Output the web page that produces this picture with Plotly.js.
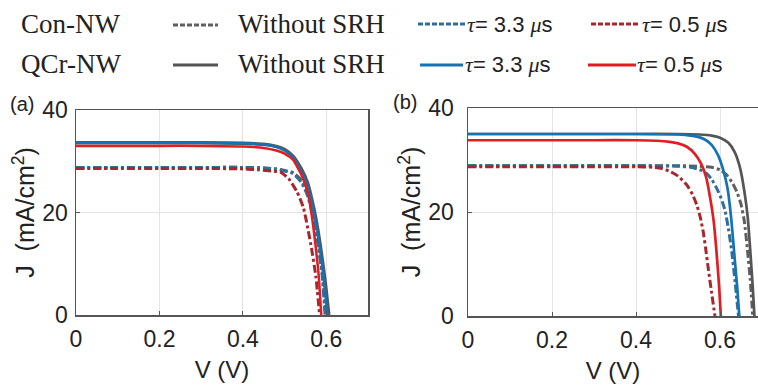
<!DOCTYPE html>
<html>
<head>
<meta charset="utf-8">
<script src="https://cdn.plot.ly/plotly-3.0.1.min.js"></script>
<style>
html,body{margin:0;padding:0;background:#fff;}
#chart{width:758px;height:387px;}
</style>
</head>
<body>
<div id="chart"></div>
<script>
// ---------- Panel (a) data ----------
const aQcrNoSrhV = [0,0.1,0.2,0.3,0.4,0.45,0.48,0.50,0.52,0.54,0.555,0.57,0.58,0.59,0.598,0.606];
const aQcrNoSrhJ = [33.6,33.6,33.6,33.6,33.5,33.3,32.9,32.3,31.0,28.5,25.8,20.8,16.5,11.0,6.0,0];
const aQcr33V = [0,0.1,0.2,0.3,0.4,0.45,0.48,0.50,0.52,0.54,0.555,0.57,0.58,0.59,0.597,0.603];
const aQcr33J = [33.6,33.6,33.6,33.6,33.5,33.3,32.8,32.1,30.7,28.0,25.2,20.0,15.5,10.0,4.5,0];
const aQcr05V = [0,0.1,0.2,0.3,0.4,0.45,0.48,0.50,0.52,0.54,0.555,0.565,0.575,0.582,0.588];
const aQcr05J = [33.0,33.0,33.0,33.0,32.9,32.6,32.1,31.5,30.3,27.4,24.0,19.5,13.0,7.5,0];
const aConNoSrhV = [0,0.1,0.2,0.3,0.4,0.45,0.48,0.50,0.52,0.54,0.555,0.57,0.58,0.59,0.599];
const aConNoSrhJ = [28.8,28.8,28.8,28.8,28.8,28.7,28.5,28.2,27.8,26.3,23.8,19.2,14.5,8.5,0];
const aCon33V = [0,0.1,0.2,0.3,0.4,0.45,0.48,0.50,0.52,0.54,0.555,0.57,0.58,0.59,0.597];
const aCon33J = [28.8,28.8,28.8,28.8,28.8,28.7,28.5,28.1,27.6,25.9,23.3,18.6,13.8,7.8,0];
const aCon05V = [0,0.1,0.2,0.3,0.4,0.44,0.47,0.49,0.51,0.53,0.545,0.556,0.565,0.575,0.584];
const aCon05J = [28.6,28.6,28.6,28.6,28.5,28.3,28.1,27.9,26.6,24.0,21.0,16.8,12.8,7.5,0];

// ---------- Panel (b) data ----------
const bQcrNoSrhV = [0,0.1,0.2,0.3,0.4,0.5,0.55,0.58,0.60,0.62,0.635,0.648,0.658,0.666,0.673,0.678,0.682];
const bQcrNoSrhJ = [35.0,35.0,35.0,35.0,35.0,35.0,34.9,34.7,34.3,33.3,31.5,28.4,24.0,19.0,11.5,5.5,0];
const bQcr33V = [0,0.1,0.2,0.3,0.4,0.5,0.53,0.55,0.565,0.58,0.595,0.608,0.618,0.627,0.635,0.641,0.646];
const bQcr33J = [35.0,35.0,35.0,35.0,35.0,34.9,34.7,34.4,33.9,32.9,31.0,28.0,24.5,18.5,11.0,5.5,0];
const bQcr05V = [0,0.1,0.2,0.3,0.4,0.45,0.48,0.50,0.52,0.54,0.555,0.567,0.577,0.585,0.593,0.598,0.602];
const bQcr05J = [33.8,33.8,33.8,33.8,33.8,33.7,33.5,33.2,32.6,31.2,29.3,26.7,22.5,18.2,11.0,5.5,0];
const bConNoSrhV = [0,0.1,0.2,0.3,0.4,0.5,0.55,0.58,0.60,0.615,0.628,0.64,0.65,0.658,0.665,0.672,0.678];
const bConNoSrhJ = [28.9,28.9,28.9,28.9,28.9,28.9,28.8,28.6,28.1,27.2,25.8,23.9,21.5,18.2,13.0,7.0,0];
const bCon33V = [0,0.1,0.2,0.3,0.4,0.5,0.53,0.55,0.568,0.58,0.592,0.603,0.612,0.62,0.628,0.636,0.644];
const bCon33J = [28.9,28.9,28.9,28.9,28.9,28.8,28.6,28.2,27.4,26.3,24.6,22.6,20.3,16.8,12.4,6.5,0];
const bCon05V = [0,0.1,0.2,0.3,0.4,0.44,0.46,0.481,0.50,0.521,0.535,0.545,0.553,0.56,0.566,0.572,0.58,0.588];
const bCon05J = [28.7,28.7,28.7,28.7,28.7,28.6,28.4,27.8,26.9,25.2,23.3,21.3,19.0,16.2,12.9,9.2,4.5,0];

// ---------- Labels ----------
const rowLabels = ["Con-NW", "QCr-NW"];
const seriesLabels = ["Without SRH", "\u03C4= 3.3 \u03BCs", "\u03C4= 0.5 \u03BCs"];
const xTicks = [0, 0.2, 0.4, 0.6];
const yTicks = [0, 20, 40];
const panelLabels = ["(a)", "(b)"];
const xTitle = "V (V)";
const yTitle = "J  (mA/cm<sup>2</sup>)";

// ---------- Styles ----------
const W = 758, H = 387;
const cGray = "#555555", cBlue = "#1572b4", cRed = "#e11d24";
const cGrayD = "#5f5f5f", cBlueD = "#2f6f9a", cRedD = "#a8262d";
const dashDot = "8px,3px,3px,3px";

function tr(x, y, color, dash, width, xa, ya, name) {
  return {x: x, y: y, type: "scatter", mode: "lines", name: name,
    xaxis: xa, yaxis: ya, showlegend: false, hoverinfo: "skip",
    line: {color: color, dash: dash, width: width, shape: "spline", smoothing: 0.5}};
}

const data = [
  tr(aConNoSrhV, aConNoSrhJ, cGrayD, dashDot, 3, "x", "y", "Con no SRH"),
  tr(aCon33V, aCon33J, cBlueD, dashDot, 3, "x", "y", "Con 3.3"),
  tr(aCon05V, aCon05J, cRedD, dashDot, 3, "x", "y", "Con 0.5"),
  tr(aQcrNoSrhV, aQcrNoSrhJ, cGray, "solid", 3.5, "x", "y", "QCr no SRH"),
  tr(aQcr33V, aQcr33J, cBlue, "solid", 2.5, "x", "y", "QCr 3.3"),
  tr(aQcr05V, aQcr05J, cRed, "solid", 2.5, "x", "y", "QCr 0.5"),
  tr(bConNoSrhV, bConNoSrhJ, cGrayD, dashDot, 3, "x2", "y2", "Con no SRH"),
  tr(bCon33V, bCon33J, cBlueD, dashDot, 3, "x2", "y2", "Con 3.3"),
  tr(bCon05V, bCon05J, cRedD, dashDot, 3, "x2", "y2", "Con 0.5"),
  tr(bQcrNoSrhV, bQcrNoSrhJ, cGray, "solid", 2.7, "x2", "y2", "QCr no SRH"),
  tr(bQcr33V, bQcr33J, cBlue, "solid", 2.7, "x2", "y2", "QCr 3.3"),
  tr(bQcr05V, bQcr05J, cRed, "solid", 2.7, "x2", "y2", "QCr 0.5")
];

const px = v => v / W;
const py = v => 1 - v / H;
const tickFont = {family: "Liberation Sans, Arial, sans-serif", size: 23, color: "#222"};
const titleFont = {family: "Liberation Sans, Arial, sans-serif", size: 24, color: "#222"};
const yTitleFont = {family: "Liberation Sans, Arial, sans-serif", size: 25, color: "#222"};

function xax(domain, range, standoff) {
  return {domain: domain, range: range, tickvals: xTicks, ticktext: xTicks.map(String),
    showgrid: true, gridcolor: "#e3e3e3", gridwidth: 1, zeroline: false,
    showline: true, linecolor: "#555", linewidth: 1.5, mirror: true,
    ticks: "inside", ticklen: 4, tickcolor: "#555", tickfont: tickFont,
    ticklabelstandoff: 3,
    title: {text: xTitle, font: titleFont, standoff: standoff}};
}
function yax(domain, anchor, mirror, lstand, tstand) {
  return {domain: domain, range: [0, 40], tickvals: yTicks, anchor: anchor,
    showgrid: true, gridcolor: "#e3e3e3", gridwidth: 1, zeroline: false,
    showline: true, linecolor: "#555", linewidth: 1.5, mirror: mirror,
    ticks: "inside", ticklen: 4, tickcolor: "#555", tickfont: tickFont,
    ticklabelstandoff: lstand,
    title: {text: yTitle, font: yTitleFont, standoff: tstand}};
}

const serif = "Liberation Serif, Times New Roman, serif";
const sans = "Liberation Sans, Arial, sans-serif";
function tauText(s) {
  return s.replace("\u03C4", '<span style="font-family:Liberation Serif;font-style:italic">\u03C4</span>')
          .replace("\u03BC", '<span style="font-family:Liberation Serif;font-style:italic">\u03BC</span>');
}
function ann(text, x, y, font, anchor) {
  return {text: text, x: px(x), y: py(y), xref: "paper", yref: "paper",
    xanchor: anchor || "left", yanchor: "middle", showarrow: false, font: font};
}
const serifFont = {family: serif, size: 27, color: "#222"};
const legFont = {family: sans, size: 22, color: "#222"};

const annotations = [
  ann(rowLabels[0], 19, 24, serifFont),
  ann(rowLabels[1], 19, 64, serifFont),
  ann(seriesLabels[0], 236, 24, serifFont),
  ann(seriesLabels[0], 236, 64, serifFont),
  ann(tauText(seriesLabels[1]), 465, 24, legFont),
  ann(tauText(seriesLabels[2]), 640, 24, legFont),
  ann(tauText(seriesLabels[1]), 463, 64, legFont),
  ann(tauText(seriesLabels[2]), 635, 64, legFont),
  ann(panelLabels[0], 8, 104, {family: sans, size: 20, color: "#222"}),
  ann(panelLabels[1], 391, 102, {family: sans, size: 20, color: "#222"})
];

function seg(x0, x1, y, color, dash, width) {
  return {type: "line", xref: "paper", yref: "paper", x0: px(x0), x1: px(x1), y0: py(y), y1: py(y),
    line: {color: color, dash: dash, width: width}};
}
const shapes = [
  seg(173, 218, 25, cGrayD, "5px,2px", 3),
  seg(173, 218, 65, cGray, "solid", 3),
  seg(418, 465, 24, cBlueD, "5px,2px", 3),
  seg(420, 463, 65, cBlue, "solid", 3),
  seg(591, 640, 24, cRedD, "5px,2px", 3),
  seg(588, 636, 65, cRed, "solid", 3)
];

const xb = xax([px(468), 1], [0, (758 - 468) / 420], 10);
const yb = yax([1 - 316 / H, 1 - 108 / H], "x2", false, 8, 0);

const layout = {
  width: W, height: H,
  margin: {l: 0, r: 0, t: 0, b: 0},
  paper_bgcolor: "#fff", plot_bgcolor: "#fff",
  showlegend: false,
  xaxis: xax([px(76), px(368)], [0, 0.7], 10),
  yaxis: yax([1 - 315 / H, 1 - 110 / H], "x", true, 2, 0),
  xaxis2: Object.assign(xb, {anchor: "y2"}),
  yaxis2: yb,
  annotations: annotations,
  shapes: shapes
};

Plotly.newPlot("chart", data, layout, {displayModeBar: false, staticPlot: true});
</script>
</body>
</html>
